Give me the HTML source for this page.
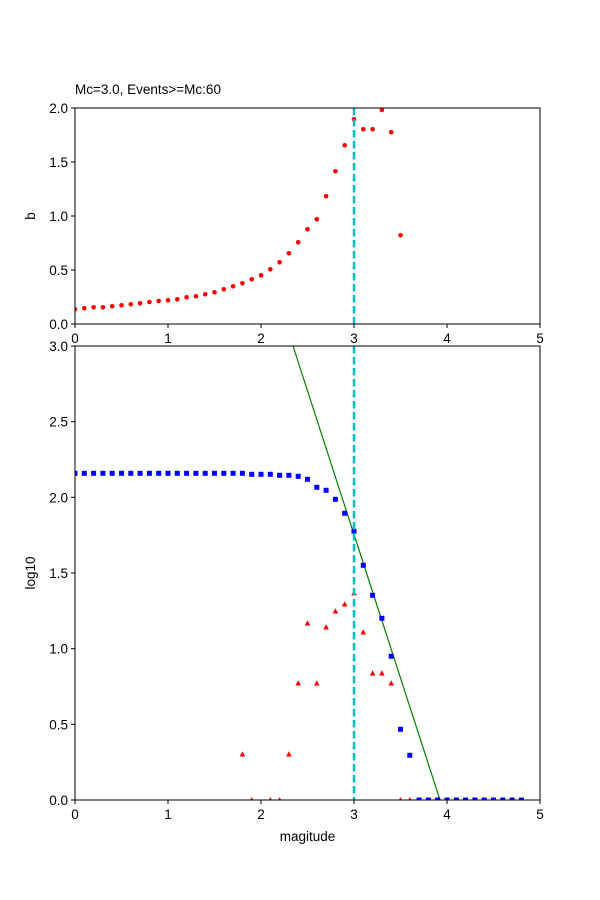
<!DOCTYPE html>
<html><head><meta charset="utf-8"><style>
html,body{margin:0;padding:0;background:#fff}
svg{display:block}
text{font-family:"Liberation Sans","DejaVu Sans",sans-serif;font-size:13.5px;fill:#000}
</style></head><body>
<svg width="600" height="900" viewBox="0 0 600 900" xmlns="http://www.w3.org/2000/svg">
<defs>
<clipPath id="c1"><rect x="75" y="108" width="465" height="216"/></clipPath>
<clipPath id="c2"><rect x="75" y="346" width="465" height="454"/></clipPath>
</defs>
<rect width="600" height="900" fill="#fff"/>
<text x="75" y="94">Mc=3.0, Events&gt;=Mc:60</text>
<g clip-path="url(#c1)" fill="red">
<circle cx="75" cy="309.3" r="2.3"/><circle cx="84.3" cy="308.3" r="2.3"/><circle cx="93.6" cy="307.3" r="2.3"/><circle cx="102.9" cy="307.3" r="2.3"/><circle cx="112.2" cy="306.3" r="2.3"/><circle cx="121.5" cy="305.3" r="2.3"/><circle cx="130.8" cy="304.3" r="2.3"/><circle cx="140.1" cy="303.3" r="2.3"/><circle cx="149.4" cy="302" r="2.3"/><circle cx="158.7" cy="301" r="2.3"/><circle cx="168" cy="300.3" r="2.3"/><circle cx="177.3" cy="299.3" r="2.3"/><circle cx="186.6" cy="297.3" r="2.3"/><circle cx="195.9" cy="296.3" r="2.3"/><circle cx="205.2" cy="294.3" r="2.3"/><circle cx="214.5" cy="292.3" r="2.3"/><circle cx="223.8" cy="289.3" r="2.3"/><circle cx="233.1" cy="286.3" r="2.3"/><circle cx="242.4" cy="283.3" r="2.3"/><circle cx="251.7" cy="279.3" r="2.3"/><circle cx="261" cy="275.3" r="2.3"/><circle cx="270.3" cy="269.3" r="2.3"/><circle cx="279.6" cy="262.3" r="2.3"/><circle cx="288.9" cy="253.3" r="2.3"/><circle cx="298.2" cy="242.3" r="2.3"/><circle cx="307.5" cy="229.3" r="2.3"/><circle cx="316.8" cy="219.3" r="2.3"/><circle cx="326.1" cy="196.3" r="2.3"/><circle cx="335.4" cy="171.3" r="2.3"/><circle cx="344.7" cy="145.3" r="2.3"/><circle cx="354" cy="119.3" r="2.3"/><circle cx="363.3" cy="129.3" r="2.3"/><circle cx="372.6" cy="129.3" r="2.3"/><circle cx="381.9" cy="110" r="2.3"/><circle cx="391.2" cy="132.3" r="2.3"/><circle cx="400.5" cy="235.3" r="2.3"/>
</g>
<line x1="354" y1="108" x2="354" y2="324" stroke="#00bfbf" stroke-width="2.5" stroke-dasharray="7.5,3.5"/>
<rect x="75" y="108" width="465" height="216" fill="none" stroke="#000" stroke-width="1"/>
<g stroke="#000" stroke-width="1">
<line x1="75" y1="324" x2="75" y2="328"/><line x1="168" y1="324" x2="168" y2="328"/><line x1="261" y1="324" x2="261" y2="328"/><line x1="354" y1="324" x2="354" y2="328"/><line x1="447" y1="324" x2="447" y2="328"/><line x1="540" y1="324" x2="540" y2="328"/>
<line x1="71" y1="324" x2="75" y2="324"/><line x1="71" y1="270" x2="75" y2="270"/><line x1="71" y1="216" x2="75" y2="216"/><line x1="71" y1="162" x2="75" y2="162"/><line x1="71" y1="108" x2="75" y2="108"/>
</g>
<g text-anchor="middle">
<text x="75" y="343">0</text><text x="168" y="343">1</text><text x="261" y="343">2</text><text x="354" y="343">3</text><text x="447" y="343">4</text><text x="540" y="343">5</text>
</g>
<g text-anchor="end">
<text x="68" y="329">0.0</text><text x="68" y="275">0.5</text><text x="68" y="221">1.0</text><text x="68" y="167">1.5</text><text x="68" y="113">2.0</text>
</g>
<text transform="translate(35,216) rotate(-90)" text-anchor="middle">b</text>

<g clip-path="url(#c2)">
<line x1="293" y1="346" x2="440" y2="800" stroke="green" stroke-width="1.2"/>
<g fill="blue">
<rect x="72.5" y="470.8" width="5" height="5"/><rect x="81.8" y="470.8" width="5" height="5"/><rect x="91.1" y="470.8" width="5" height="5"/><rect x="100.4" y="470.8" width="5" height="5"/><rect x="109.7" y="470.8" width="5" height="5"/><rect x="119" y="470.8" width="5" height="5"/><rect x="128.3" y="470.8" width="5" height="5"/><rect x="137.6" y="470.8" width="5" height="5"/><rect x="146.9" y="470.8" width="5" height="5"/><rect x="156.2" y="470.8" width="5" height="5"/><rect x="165.5" y="470.8" width="5" height="5"/><rect x="174.8" y="470.8" width="5" height="5"/><rect x="184.1" y="470.8" width="5" height="5"/><rect x="193.4" y="470.8" width="5" height="5"/><rect x="202.7" y="470.8" width="5" height="5"/><rect x="212" y="470.8" width="5" height="5"/><rect x="221.3" y="470.8" width="5" height="5"/>
<rect x="230.6" y="470.8" width="5" height="5"/><rect x="239.9" y="470.8" width="5" height="5"/><rect x="249.2" y="471.8" width="5" height="5"/><rect x="258.5" y="471.8" width="5" height="5"/><rect x="267.8" y="471.8" width="5" height="5"/><rect x="277.1" y="472.8" width="5" height="5"/><rect x="286.4" y="472.8" width="5" height="5"/><rect x="295.7" y="473.8" width="5" height="5"/><rect x="305" y="476.8" width="5" height="5"/><rect x="314.3" y="484.8" width="5" height="5"/><rect x="323.6" y="487.8" width="5" height="5"/><rect x="332.9" y="496.8" width="5" height="5"/><rect x="342.2" y="510.8" width="5" height="5"/><rect x="351.5" y="528.8" width="5" height="5"/><rect x="360.8" y="562.8" width="5" height="5"/><rect x="370.1" y="592.8" width="5" height="5"/><rect x="379.4" y="615.8" width="5" height="5"/><rect x="388.7" y="653.8" width="5" height="5"/><rect x="398" y="726.8" width="5" height="5"/><rect x="407.3" y="752.8" width="5" height="5"/>
<rect x="416.6" y="797.5" width="5" height="5"/><rect x="425.9" y="797.5" width="5" height="5"/><rect x="435.2" y="797.5" width="5" height="5"/><rect x="444.5" y="797.5" width="5" height="5"/><rect x="453.8" y="797.5" width="5" height="5"/><rect x="463.1" y="797.5" width="5" height="5"/><rect x="472.4" y="797.5" width="5" height="5"/><rect x="481.7" y="797.5" width="5" height="5"/><rect x="491" y="797.5" width="5" height="5"/><rect x="500.3" y="797.5" width="5" height="5"/><rect x="509.6" y="797.5" width="5" height="5"/><rect x="518.9" y="797.5" width="5" height="5"/>
</g>
<g fill="red">
<polygon points="242.4,751.3 239.6,756.5 245.2,756.5"/>
<polygon points="251.7,797 248.9,802.2 254.5,802.2"/>
<polygon points="270.3,797 267.5,802.2 273.1,802.2"/>
<polygon points="279.6,797 276.8,802.2 282.4,802.2"/>
<polygon points="288.9,751.3 286.1,756.5 291.7,756.5"/>
<polygon points="298.2,680.3 295.4,685.5 301,685.5"/>
<polygon points="307.5,620.3 304.7,625.5 310.3,625.5"/>
<polygon points="316.8,680.3 314,685.5 319.6,685.5"/>
<polygon points="326.1,624.3 323.3,629.5 328.9,629.5"/>
<polygon points="335.4,608.3 332.6,613.5 338.2,613.5"/>
<polygon points="344.7,601.3 341.9,606.5 347.5,606.5"/>
<polygon points="354,590.3 351.2,595.5 356.8,595.5"/>
<polygon points="363.3,629.3 360.5,634.5 366.1,634.5"/>
<polygon points="372.6,670.3 369.8,675.5 375.4,675.5"/>
<polygon points="381.9,670.3 379.1,675.5 384.7,675.5"/>
<polygon points="391.2,680.3 388.4,685.5 394,685.5"/>
<polygon points="400.5,797 397.7,802.2 403.3,802.2"/>
<polygon points="409.8,797 407,802.2 412.6,802.2"/>
</g>
</g>
<line x1="354" y1="346" x2="354" y2="800" stroke="#00bfbf" stroke-width="2.5" stroke-dasharray="7.5,3.5"/>
<rect x="75" y="346" width="465" height="454" fill="none" stroke="#000" stroke-width="1"/>
<g stroke="#000" stroke-width="1">
<line x1="75" y1="800" x2="75" y2="804"/><line x1="168" y1="800" x2="168" y2="804"/><line x1="261" y1="800" x2="261" y2="804"/><line x1="354" y1="800" x2="354" y2="804"/><line x1="447" y1="800" x2="447" y2="804"/><line x1="540" y1="800" x2="540" y2="804"/>
<line x1="71" y1="800" x2="75" y2="800"/><line x1="71" y1="724.3" x2="75" y2="724.3"/><line x1="71" y1="648.7" x2="75" y2="648.7"/><line x1="71" y1="573" x2="75" y2="573"/><line x1="71" y1="497.3" x2="75" y2="497.3"/><line x1="71" y1="421.7" x2="75" y2="421.7"/><line x1="71" y1="346" x2="75" y2="346"/>
</g>
<g text-anchor="middle">
<text x="75" y="819">0</text><text x="168" y="819">1</text><text x="261" y="819">2</text><text x="354" y="819">3</text><text x="447" y="819">4</text><text x="540" y="819">5</text>
</g>
<g text-anchor="end">
<text x="68" y="805">0.0</text><text x="68" y="729.3">0.5</text><text x="68" y="653.7">1.0</text><text x="68" y="578">1.5</text><text x="68" y="502.3">2.0</text><text x="68" y="426.7">2.5</text><text x="68" y="351">3.0</text>
</g>
<text x="307.5" y="841" text-anchor="middle">magitude</text>
<text transform="translate(35,573) rotate(-90)" text-anchor="middle">log10</text>
</svg>
</body></html>
